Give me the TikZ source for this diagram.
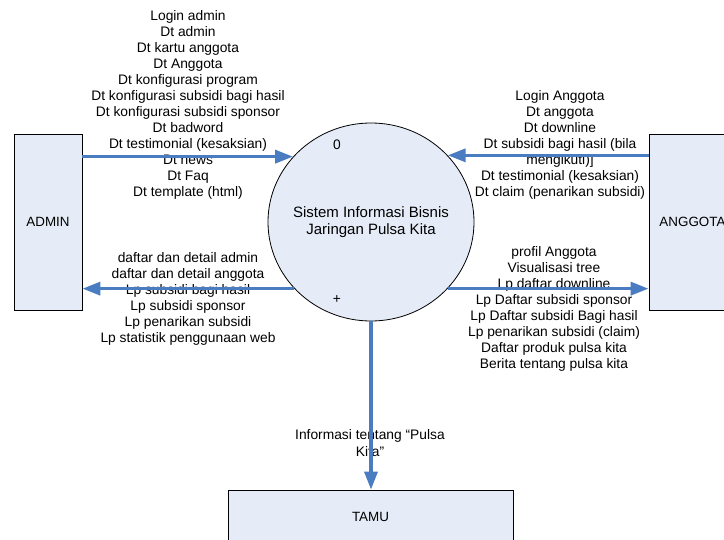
\documentclass[tikz,border=0pt]{standalone}
\usepackage{fontspec}
\setmainfont{Liberation Sans}
\usetikzlibrary{arrows.meta,shapes.geometric,positioning}
\definecolor{boxfill}{RGB}{230,236,247}
\definecolor{flowblue}{RGB}{74,124,193}
\tikzstyle{entity} = [rectangle, draw = black, fill = boxfill, line width = 0.8pt, text centered, font = \fontsize{13.4}{16}\selectfont]
\tikzstyle{process} = [ellipse, draw = black, fill = boxfill, line width = 0.8pt, minimum width = 206pt, minimum height = 198pt, inner sep = 0pt]
\tikzstyle{flowtext} = [align = center, inner sep = 0pt, font = \fontsize{13.8}{16}\selectfont]
\tikzstyle{flow} = [draw = flowblue, line width = 3.5pt, -{Triangle[length=18pt,width=13pt]}]

\begin{document}
\begin{tikzpicture}[x = 1pt, y = -1pt]
        \useasboundingbox (0,0) rectangle (724,540);
        \node (admin) [entity, minimum width = 68pt, minimum height = 176pt] at (48,222) {ADMIN};
        \node (anggota) [entity, minimum width = 87pt, minimum height = 176pt] at (692.5,222) {ANGGOTA};
        \node (tamu) [entity, minimum width = 285pt, minimum height = 54pt] at (370.5,517) {TAMU};
        \node (proc) [process] at (371,222) {};
        \node (proc-name) [flowtext, font = \fontsize{15}{17}\selectfont] at (proc) {Sistem Informasi Bisnis\\Jaringan Pulsa Kita};
        \node (proc-id) [flowtext] at (337,145) {0};
        \node (proc-sub) [flowtext] at (337,300) {+};
        % labels of the flows
        \node (admin-in) [flowtext] at (188,104.5) {Login admin\\Dt admin\\Dt kartu anggota\\Dt Anggota\\Dt konfigurasi program\\Dt konfigurasi subsidi bagi hasil\\Dt konfigurasi subsidi sponsor\\Dt badword\\Dt testimonial (kesaksian)\\Dt news\\Dt Faq\\Dt template (html)};
        \node (anggota-in) [flowtext] at (560,145) {Login Anggota\\Dt anggota\\Dt downline\\Dt subsidi bagi hasil (bila\\mengikuti)]\\Dt testimonial (kesaksian)\\Dt claim (penarikan subsidi)};
        \node (admin-out) [flowtext] at (188,298.5) {daftar dan detail admin\\daftar dan detail anggota\\Lp subsidi bagi hasil\\Lp subsidi sponsor\\Lp penarikan subsidi\\Lp statistik penggunaan web};
        \node (anggota-out) [flowtext] at (554,309) {profil Anggota\\Visualisasi tree\\Lp daftar downline\\Lp Daftar subsidi sponsor\\Lp Daftar subsidi Bagi hasil\\Lp penarikan subsidi (claim)\\Daftar produk pulsa kita\\Berita tentang pulsa kita};
        \node (tamu-out) [flowtext] at (370,443.5) {Informasi tentang “Pulsa\\[1pt]Kita”};
        \draw [flow] (admin.east |- proc.140) -- (proc.140);
        \draw [flow] (anggota.west |- proc.41) -- (proc.41);
        \draw [flow] (proc.221) -- (admin.east |- proc.221);
        \draw [flow] (proc.319) -- (anggota.west |- proc.319);
        \draw [flow] (proc.south) -- (tamu.north -| proc.south);
\end{tikzpicture}
\end{document}
